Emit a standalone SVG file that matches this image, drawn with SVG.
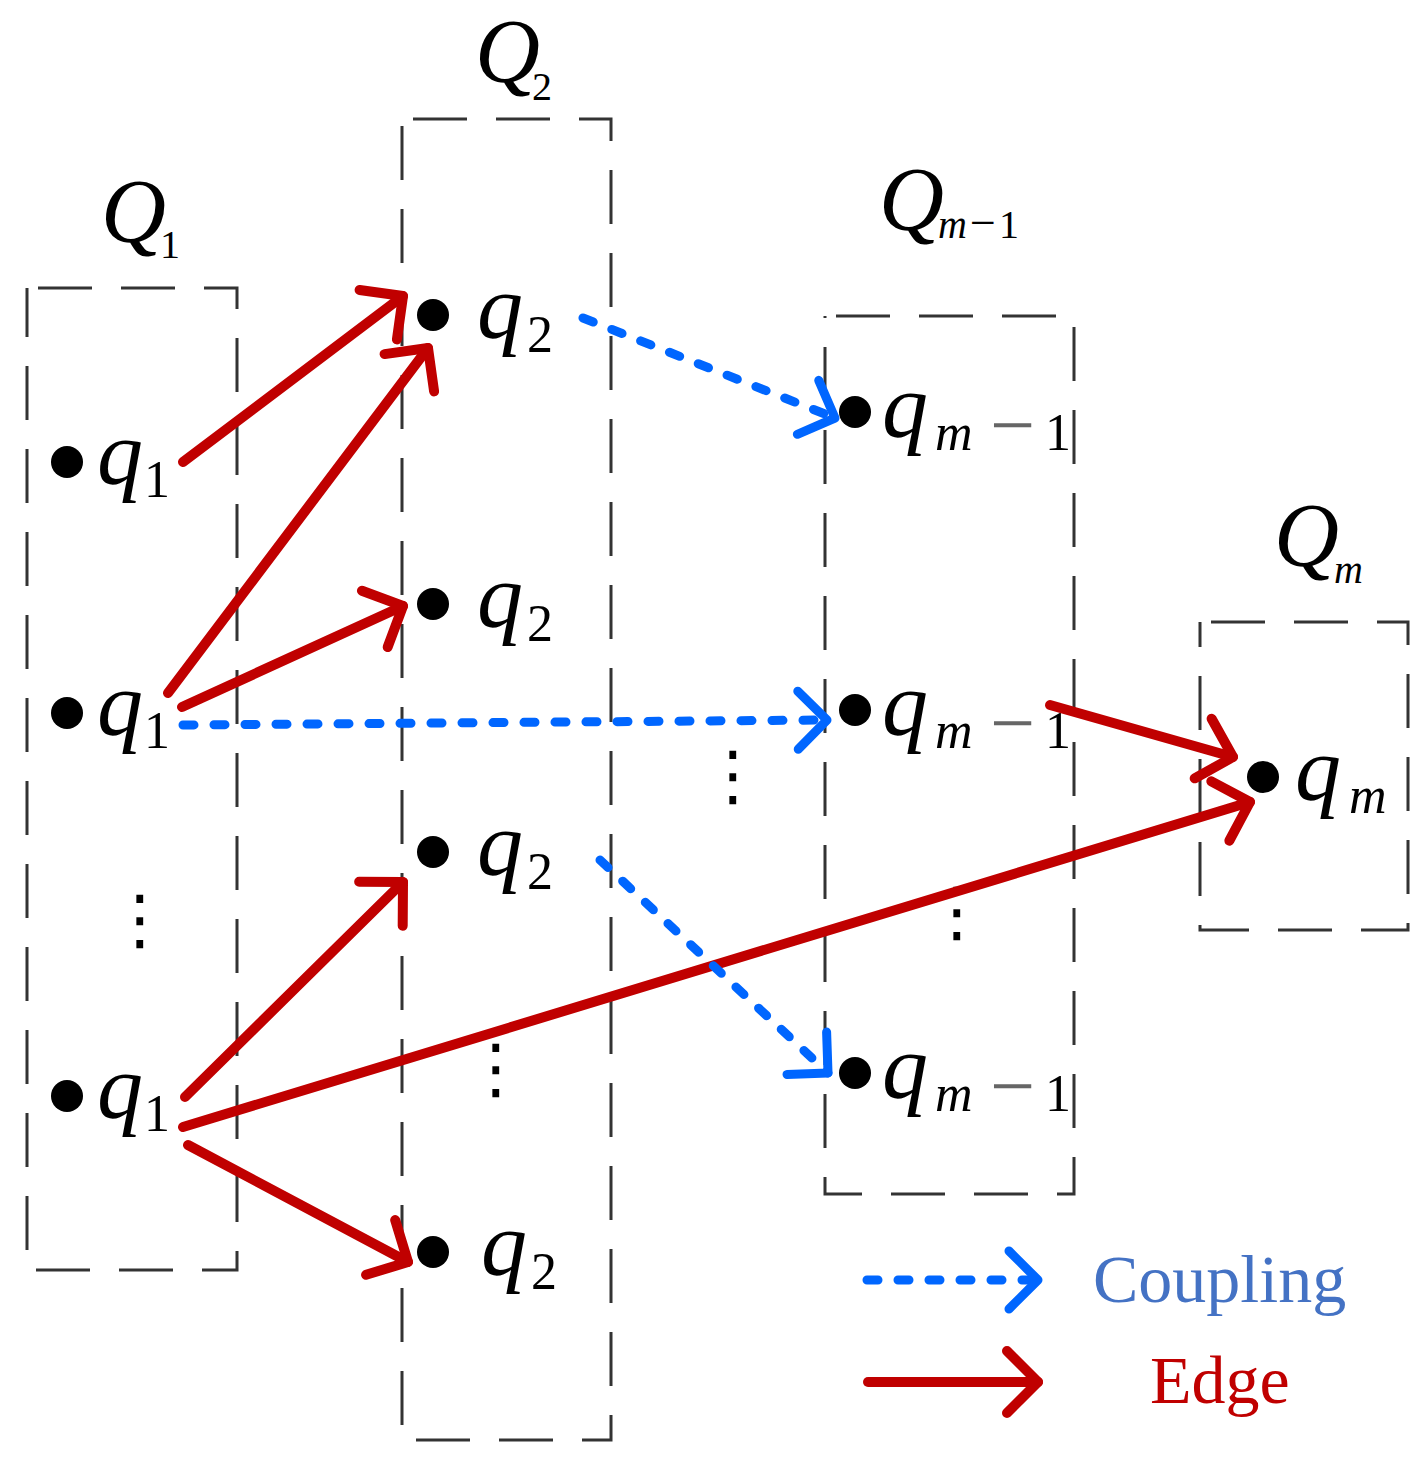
<svg xmlns="http://www.w3.org/2000/svg" width="1427" height="1462" viewBox="0 0 1427 1462">
<defs>
<style>
.box{fill:none;stroke:#333;stroke-width:3;stroke-dasharray:54 29;stroke-dashoffset:72}
.dot{fill:#000}
.v{font-family:"Liberation Serif",serif;font-style:italic;font-size:92px;fill:#000}
.s{font-size:52px}
.n{font-style:normal}
.mi{font-style:normal;font-size:80px;fill:#666}
.G{font-family:"Liberation Serif",serif;font-style:italic;font-size:90px;fill:#000}
.gs{font-size:40px}
.gm{font-style:normal;font-size:46px}
.edge{fill:none;stroke:#C00000;stroke-width:10;stroke-linecap:round}
.cpl{fill:none;stroke:#0066FF;stroke-width:9;stroke-linecap:round;stroke-dasharray:11 20}
.el{font-family:"DejaVu Sans",sans-serif;font-size:66px;fill:#000;text-anchor:middle}
.leg{font-family:"Liberation Serif",serif;font-size:68px}
</style>
<marker id="ah-red" markerUnits="userSpaceOnUse" markerWidth="80" markerHeight="80" viewBox="-40 -40 80 80" refX="0" refY="0" orient="auto" overflow="visible">
<path d="M-31,-31 L0,0 L-31,31" fill="none" stroke="#C00000" stroke-width="10" stroke-linecap="round" stroke-linejoin="round"/>
</marker>
<marker id="ah-blue" markerUnits="userSpaceOnUse" markerWidth="80" markerHeight="80" viewBox="-40 -40 80 80" refX="0" refY="0" orient="auto" overflow="visible">
<path d="M-29,-29 L0,0 L-29,29" fill="none" stroke="#0066FF" stroke-width="9" stroke-linecap="round" stroke-linejoin="round"/>
</marker>
</defs>
<rect width="1427" height="1462" fill="#fff"/>

<g id="Q1">
<rect class="box" x="27" y="288" width="210" height="982"/>
<text class="G"><tspan x="101" y="242">Q</tspan><tspan class="gs n" x="160" y="258">1</tspan></text>
</g>
<g id="Q2">
<rect class="box" x="402" y="119" width="209" height="1321"/>
<text class="G"><tspan x="475" y="82">Q</tspan><tspan class="gs n" x="532" y="100">2</tspan></text>
</g>
<g id="Qm-1">
<rect class="box" x="825" y="316" width="249" height="878"/>
<text class="G"><tspan x="879" y="230">Q</tspan><tspan class="gs" x="938" y="238">m</tspan><tspan class="gm" x="970" y="238">−</tspan><tspan class="gs n" x="999" y="238">1</tspan></text>
</g>
<g id="Qm">
<rect class="box" x="1200" y="622" width="208" height="308"/>
<text class="G"><tspan x="1274" y="566">Q</tspan><tspan class="gs" x="1334" y="583">m</tspan></text>
</g>

<g id="q1-a"><circle class="dot" cx="67" cy="462" r="16"/><text class="v"><tspan x="97" y="484">q</tspan><tspan class="s n" x="144" y="497">1</tspan></text></g>
<g id="q1-b"><circle class="dot" cx="67" cy="713" r="16"/><text class="v"><tspan x="97" y="735">q</tspan><tspan class="s n" x="144" y="748">1</tspan></text></g>
<g id="q1-c"><circle class="dot" cx="67" cy="1096" r="16"/><text class="v"><tspan x="97" y="1118">q</tspan><tspan class="s n" x="144" y="1131">1</tspan></text></g>

<g id="q2-a"><circle class="dot" cx="433" cy="315" r="16"/><text class="v"><tspan x="477" y="338">q</tspan><tspan class="s n" x="527" y="352">2</tspan></text></g>
<g id="q2-b"><circle class="dot" cx="433" cy="604" r="16"/><text class="v"><tspan x="477" y="627">q</tspan><tspan class="s n" x="527" y="641">2</tspan></text></g>
<g id="q2-c"><circle class="dot" cx="433" cy="852" r="16"/><text class="v"><tspan x="477" y="875">q</tspan><tspan class="s n" x="527" y="889">2</tspan></text></g>
<g id="q2-d"><circle class="dot" cx="433" cy="1252" r="16"/><text class="v"><tspan x="481" y="1275">q</tspan><tspan class="s n" x="531" y="1289">2</tspan></text></g>

<g id="qm-1-a"><circle class="dot" cx="855" cy="412" r="16"/><text class="v"><tspan x="882" y="437">q</tspan><tspan class="s" x="935" y="450">m</tspan><tspan class="mi" x="990" y="452">−</tspan><tspan class="s n" x="1045" y="450">1</tspan></text></g>
<g id="qm-1-b"><circle class="dot" cx="855" cy="710" r="16"/><text class="v"><tspan x="882" y="735">q</tspan><tspan class="s" x="935" y="748">m</tspan><tspan class="mi" x="990" y="750">−</tspan><tspan class="s n" x="1045" y="748">1</tspan></text></g>
<g id="qm-1-c"><circle class="dot" cx="855" cy="1073" r="16"/><text class="v"><tspan x="882" y="1098">q</tspan><tspan class="s" x="935" y="1111">m</tspan><tspan class="mi" x="990" y="1113">−</tspan><tspan class="s n" x="1045" y="1111">1</tspan></text></g>

<g id="qm"><circle class="dot" cx="1263" cy="777" r="16"/><text class="v"><tspan x="1295" y="800">q</tspan><tspan class="s" x="1349" y="813">m</tspan></text></g>

<g id="ellipses">
<text class="el" x="140" y="942">⋮</text>
<text class="el" x="496" y="1091">⋮</text>
<text class="el" x="733" y="798">⋮</text>
<text class="el" x="957" y="934">⋮</text>
</g>

<g id="connectors">
<line class="edge" x1="183" y1="462" x2="403" y2="296" marker-end="url(#ah-red)"/>
<line class="edge" x1="168" y1="693" x2="428" y2="348" marker-end="url(#ah-red)"/>
<line class="edge" x1="182" y1="707" x2="403" y2="606" marker-end="url(#ah-red)"/>
<line class="edge" x1="185" y1="1097" x2="403" y2="882" marker-end="url(#ah-red)"/>
<line class="edge" x1="183" y1="1127" x2="1250" y2="802" marker-end="url(#ah-red)"/>
<line class="edge" x1="188" y1="1145" x2="408" y2="1262" marker-end="url(#ah-red)"/>
<line class="edge" x1="1050" y1="705" x2="1233" y2="757" marker-end="url(#ah-red)"/>
<line class="cpl" x1="583" y1="318" x2="835" y2="418" marker-end="url(#ah-blue)"/>
<line class="cpl" x1="183" y1="725" x2="827" y2="720" marker-end="url(#ah-blue)"/>
<line class="cpl" x1="600" y1="860" x2="828" y2="1073" marker-end="url(#ah-blue)"/>
</g>

<g id="legend">
<line class="cpl" x1="867" y1="1280" x2="1038" y2="1280" marker-end="url(#ah-blue)"/>
<text class="leg" x="1093" y="1302" fill="#4472C4">Coupling</text>
<line class="edge" x1="868" y1="1382" x2="1038" y2="1382" marker-end="url(#ah-red)"/>
<text class="leg" x="1150" y="1403" fill="#C00000" font-size="67">Edge</text>
</g>
</svg>
